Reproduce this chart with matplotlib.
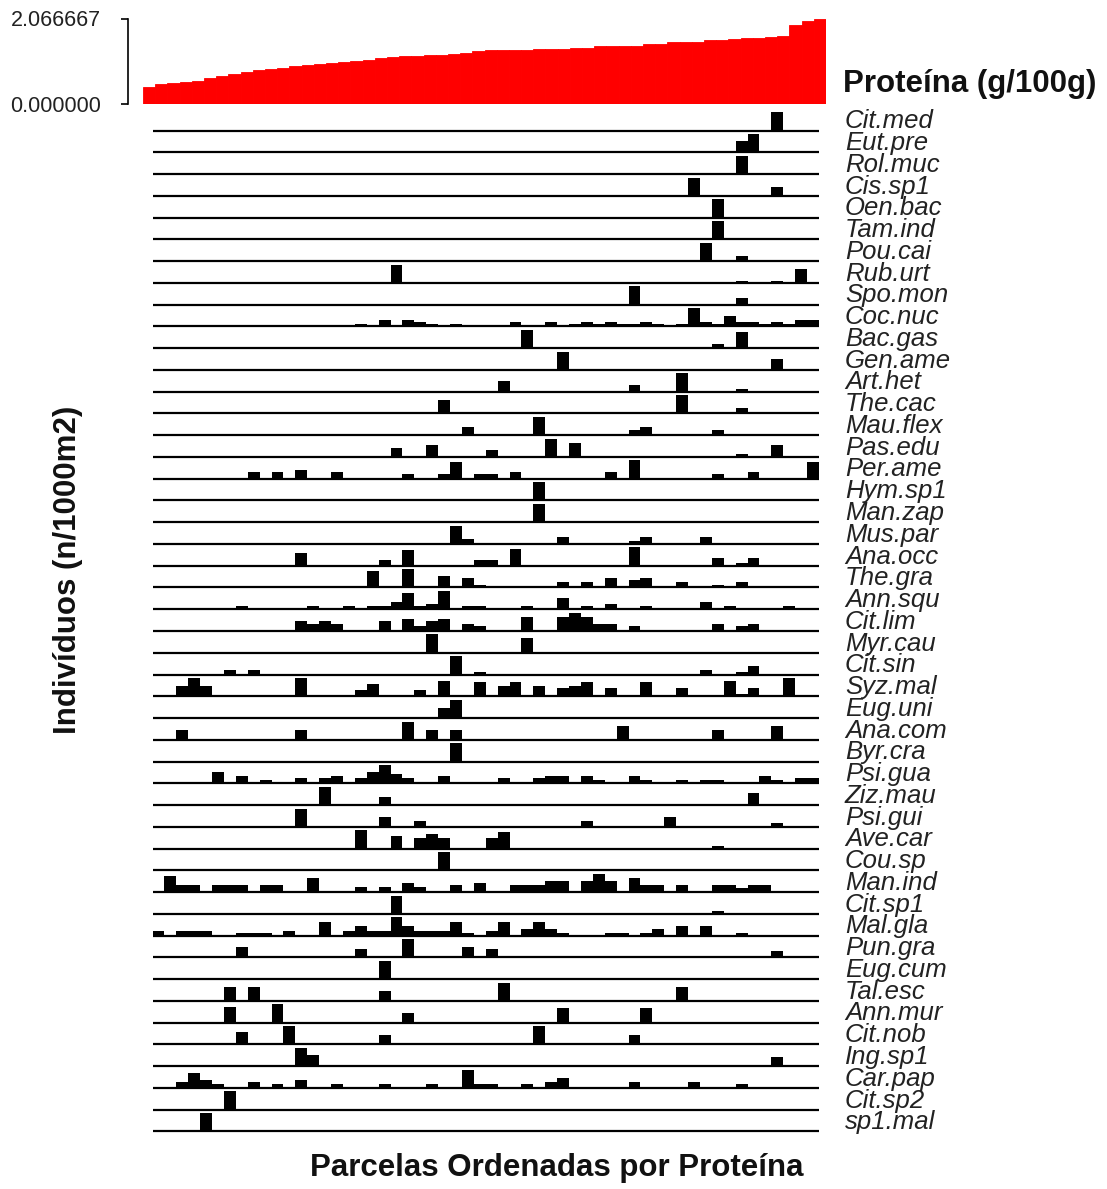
import numpy as np
import matplotlib
matplotlib.use("Agg")
import matplotlib.pyplot as plt
from matplotlib.transforms import blended_transform_factory

#########################################################
### Data: protein per plot (sorted) and species cells ###
#########################################################

protein = [0.40, 0.49, 0.50, 0.53, 0.56, 0.62, 0.67, 0.72, 0.77, 0.82,
           0.84, 0.88, 0.93, 0.95, 0.97, 0.99, 1.01, 1.04, 1.07, 1.10,
           1.13, 1.16, 1.17, 1.18, 1.19, 1.21, 1.23, 1.27, 1.30, 1.30,
           1.31, 1.31, 1.32, 1.32, 1.33, 1.35, 1.36, 1.39, 1.40, 1.40,
           1.41, 1.44, 1.45, 1.49, 1.50, 1.51, 1.54, 1.55, 1.58, 1.59,
           1.60, 1.61, 1.64, 1.92, 2.01, 2.066667]

protein_ticks = [0.0, 2.066667]
protein_title = "Proteína (g/100g)"

species = ["Cit.med", "Eut.pre", "Rol.muc", "Cis.sp1", "Oen.bac", "Tam.ind",
           "Pou.cai", "Rub.urt", "Spo.mon", "Coc.nuc", "Bac.gas", "Gen.ame",
           "Art.het", "The.cac", "Mau.flex", "Pas.edu", "Per.ame", "Hym.sp1",
           "Man.zap", "Mus.par", "Ana.occ", "The.gra", "Ann.squ", "Cit.lim",
           "Myr.cau", "Cit.sin", "Syz.mal", "Eug.uni", "Ana.com", "Byr.cra",
           "Psi.gua", "Ziz.mau", "Psi.gui", "Ave.car", "Cou.sp", "Man.ind",
           "Cit.sp1", "Mal.gla", "Pun.gra", "Eug.cum", "Tal.esc", "Ann.mur",
           "Cit.nob", "Ing.sp1", "Car.pap", "Cit.sp2", "sp1.mal"]

# (plot index, abundance) pairs for each species, same order as above
cells = [
    [(52, 1.0)],
    [(49, .6), (50, 1.0)],
    [(49, 1.0)],
    [(45, 1.0), (52, .46)],
    [(47, 1.0)],
    [(47, 1.0)],
    [(46, 1.0), (49, .28)],
    [(20, 1.0), (49, .12), (52, .12), (54, .75)],
    [(40, 1.0), (49, .35)],
    [(17, .13), (19, .35), (21, .35), (22, .24), (23, .13), (25, .13), (27, .08),
     (28, .08), (29, .08), (30, .24), (33, .24), (35, .13), (36, .24), (37, .13),
     (38, .24), (39, .13), (40, .13), (41, .24), (42, .13), (44, .13), (45, 1.0),
     (46, .24), (47, .13), (48, .56), (49, .24), (50, .24), (51, .13), (52, .24),
     (53, .13), (54, .35), (55, .35)],
    [(31, 1.0), (47, .25), (49, .9)],
    [(34, 1.0), (52, .57)],
    [(29, .6), (40, .35), (44, 1.0), (49, .15)],
    [(24, .75), (44, 1.0), (49, .3)],
    [(26, .42), (32, 1.0), (40, .26), (41, .42), (47, .3)],
    [(20, .5), (23, .64), (28, .4), (33, 1.0), (35, .74), (49, .14), (52, .64)],
    [(8, .38), (10, .38), (12, .49), (15, .38), (21, .27), (24, .27), (25, .9),
     (27, .27), (28, .27), (30, .38), (38, .38), (40, 1.0), (47, .27), (50, .38),
     (55, .9)],
    [(32, 1.0)],
    [(32, 1.0)],
    [(25, 1.0), (26, .28), (34, .4), (40, .15), (41, .4), (46, .4)],
    [(12, .7), (19, .3), (21, .86), (27, .3), (28, .3), (30, .9), (40, 1.0),
     (47, .4), (49, .16), (50, .4)],
    [(18, .88), (21, 1.0), (24, .64), (26, .54), (27, .16), (34, .3), (36, .3),
     (38, .54), (40, .4), (41, .54), (44, .3), (47, .16), (49, .3)],
    [(7, .16), (13, .16), (16, .16), (18, .16), (19, .16), (20, .38), (21, .88),
     (22, .16), (23, .28), (24, 1.0), (26, .16), (27, .16), (31, .16), (34, .62),
     (36, .16), (38, .28), (41, .16), (46, .38), (48, .16), (53, .16)],
    [(12, .52), (13, .4), (14, .52), (15, .4), (19, .52), (21, .65), (22, .29),
     (23, .52), (24, .65), (26, .4), (27, .29), (31, .77), (34, .77), (35, 1.0),
     (36, .77), (37, .4), (38, .4), (40, .29), (47, .4), (49, .29), (50, .4)],
    [(23, 1.0), (31, .8)],
    [(6, .25), (8, .25), (25, 1.0), (27, .14), (46, .25), (49, .14), (50, .46)],
    [(2, .57), (3, 1.0), (4, .57), (12, 1.0), (17, .36), (18, .66), (22, .36),
     (24, .86), (27, .77), (29, .57), (30, .77), (32, .57), (34, .45), (35, .57),
     (36, .77), (38, .45), (41, .77), (44, .45), (48, .86), (49, .14), (50, .45),
     (53, 1.0)],
    [(24, .56), (25, 1.0)],
    [(2, .52), (12, .52), (21, 1.0), (23, .52), (25, .52), (39, .74), (47, .52),
     (52, .74)],
    [(25, 1.0)],
    [(5, .62), (7, .38), (9, .16), (12, .28), (14, .28), (15, .38), (17, .28),
     (18, .62), (19, 1.0), (20, .5), (21, .28), (24, .38), (29, .28), (32, .28),
     (33, .38), (34, .38), (36, .38), (37, .16), (40, .38), (41, .16), (44, .16),
     (46, .16), (47, .16), (51, .38), (52, .16), (54, .28), (55, .28)],
    [(14, 1.0), (19, .44), (50, .67)],
    [(12, 1.0), (19, .54), (22, .32), (36, .32), (43, .54), (52, .21)],
    [(17, 1.0), (20, .67), (22, .56), (23, .78), (24, .56), (28, .56), (29, .89),
     (47, .13)],
    [(24, 1.0)],
    [(1, .9), (2, .4), (3, .4), (5, .4), (6, .4), (7, .4), (9, .4), (10, .4),
     (13, .76), (17, .26), (19, .26), (21, .52), (22, .26), (25, .4), (27, .52),
     (30, .4), (31, .4), (32, .4), (33, .62), (34, .62), (36, .62), (37, 1.0),
     (38, .62), (40, .76), (41, .4), (42, .4), (44, .4), (47, .4), (48, .4),
     (49, .2), (50, .4), (51, .4)],
    [(20, 1.0), (47, .18)],
    [(0, .26), (2, .26), (3, .26), (4, .26), (7, .14), (8, .14), (9, .14),
     (11, .26), (14, .74), (16, .26), (17, .5), (18, .26), (19, .26), (20, 1.0),
     (21, .5), (22, .26), (23, .26), (24, .26), (25, .74), (26, .14), (28, .26),
     (29, .74), (31, .38), (32, .74), (33, .38), (34, .14), (38, .14), (39, .14),
     (41, .14), (42, .38), (44, .5), (46, .5), (49, .14)],
    [(7, .58), (17, .46), (21, 1.0), (26, .58), (28, .46), (52, .35)],
    [(19, 1.0)],
    [(6, .78), (8, .78), (19, .55), (29, 1.0), (44, .78)],
    [(6, .85), (10, 1.0), (21, .55), (34, .8), (41, .8)],
    [(7, .7), (11, 1.0), (19, .52), (32, 1.0), (40, .52)],
    [(12, 1.0), (13, .6), (52, .5)],
    [(2, .3), (3, .8), (4, .42), (5, .2), (8, .3), (10, .2), (12, .42), (15, .2),
     (19, .2), (23, .2), (26, 1.0), (27, .2), (28, .2), (31, .2), (33, .3),
     (34, .54), (40, .3), (45, .3), (49, .2)],
    [(6, 1.0)],
    [(4, 1.0)],
]

xlabel = "Parcelas Ordenadas por Proteína"
ylabel = "Indivíduos (n/1000m2)"

###################
### Figure setup ###
###################

W, H = 1107, 1189
plt.rcParams['font.family'] = ['Liberation Sans', 'DejaVu Sans']
fig = plt.figure(figsize=(W / 100, H / 100), dpi=100)

n_plots = len(protein)
n_sp = len(species)

def px_box(x0, y0, x1, y1):
    # pixel box (top-left origin) -> figure fraction rect
    return [x0 / W, 1 - y1 / H, (x1 - x0) / W, (y1 - y0) / H]

### top panel: protein gradient
axp = fig.add_axes(px_box(143, 18.5, 826, 104))
axp.bar(np.arange(n_plots), protein, width=1, align='edge',
        color='red', edgecolor='red', linewidth=0.6)
axp.set_xlim(0, n_plots)
axp.set_ylim(0, protein_ticks[1])
for s in ['top', 'right', 'bottom']:
    axp.spines[s].set_visible(False)
axp.spines['left'].set_position(('outward', 11))
axp.spines['left'].set_bounds(0, protein_ticks[1])
axp.spines['left'].set_linewidth(1.2)
axp.set_xticks([])
axp.set_yticks(protein_ticks)
axp.set_yticklabels(["%.6f" % v for v in protein_ticks])
axp.tick_params(axis='y', length=5, width=1.2, pad=14, labelsize=15.5,
                labelcolor='#222222')
fig.text(843 / W, 1 - 84 / H, protein_title, fontsize=22.5, fontweight='bold',
         ha='left', va='center', color='#111111')

### species panel
row0, row_gap = 130.5, 21.76
ylo, yhi = -(n_sp - 1) - 0.6, 1.0
axs = fig.add_axes(px_box(152.5, row0 - yhi * row_gap, 819,
                          row0 - ylo * row_gap))
axs.set_xlim(0, n_plots)
axs.set_ylim(ylo, yhi)
axs.axis('off')

lab_tr = blended_transform_factory(fig.transFigure, axs.transData)
for i, (name, sp_cells) in enumerate(zip(species, cells)):
    base = -i
    cols = np.array([c for c, v in sp_cells])
    vals = np.array([v for c, v in sp_cells])
    axs.bar(cols, vals / vals.max() * 0.84, width=1, bottom=base,
            align='edge', color='black', linewidth=0)
    axs.text(845 / W, base + 0.1, name, transform=lab_tr, fontsize=18.5,
             fontstyle='italic', ha='left', va='baseline', color='#222222')

axs.hlines(-np.arange(n_sp), 0, n_plots, color='black', lw=1.6)

### axis labels
fig.text(557 / W, 1 - 1168 / H, xlabel, fontsize=22.5, fontweight='bold',
         ha='center', va='center', color='#111111')
fig.text(68 / W, 1 - 570 / H, ylabel, fontsize=22.5, fontweight='bold',
         ha='center', va='center', rotation=90, color='#111111')

fig.savefig("out.png", dpi=100)
